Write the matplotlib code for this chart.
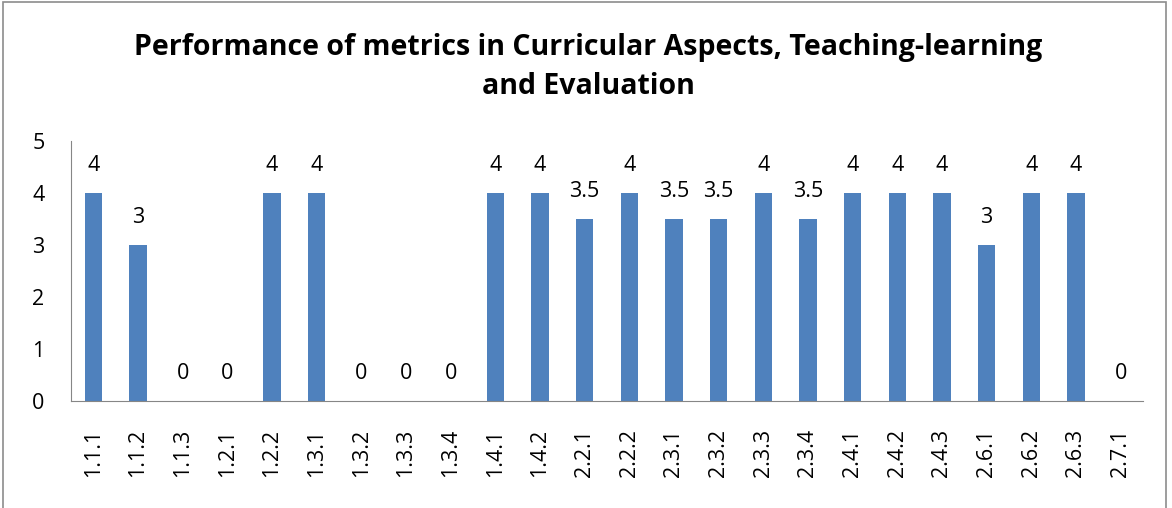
import matplotlib
matplotlib.use("Agg")
import matplotlib.pyplot as plt
from matplotlib.patches import Rectangle

categories = ["1.1.1", "1.1.2", "1.1.3", "1.2.1", "1.2.2", "1.3.1", "1.3.2", "1.3.3", "1.3.4",
              "1.4.1", "1.4.2", "2.2.1", "2.2.2", "2.3.1", "2.3.2", "2.3.3", "2.3.4", "2.4.1",
              "2.4.2", "2.4.3", "2.6.1", "2.6.2", "2.6.3", "2.7.1"]
values = [4, 3, 0, 0, 4, 4, 0, 0, 0, 4, 4, 3.5, 4, 3.5, 3.5, 4, 3.5, 4, 4, 4, 3, 4, 4, 0]
labels = ["4", "3", "0", "0", "4", "4", "0", "0", "0", "4", "4", "3.5", "4", "3.5", "3.5", "4",
          "3.5", "4", "4", "4", "3", "4", "4", "0"]
yticks = [0, 1, 2, 3, 4, 5]
title = "Performance of metrics in Curricular Aspects, Teaching-learning\nand Evaluation"

plt.rcParams['font.family'] = ['Open Sans', 'DejaVu Sans']

W, H = 1172, 508
fig = plt.figure(figsize=(W / 100, H / 100), dpi=100)
fig.patch.set_facecolor("white")

# chart border
fig.add_artist(Rectangle((3 / W, -0.01), (1166 - 3) / W, 1.0 + 0.01 - 2 / H, transform=fig.transFigure,
                         fill=False, edgecolor="#8c8c8c", linewidth=1.2))

left, right, top, bottom = 71, 1143, 141, 401
ax = fig.add_axes([left / W, 1 - bottom / H, (right - left) / W, (bottom - top) / H])
x = list(range(len(categories)))
ax.bar(x, values, width=0.39, color="#4F81BD", edgecolor="#4F81BD", linewidth=0)
ax.set_xlim(-0.5, len(categories) - 0.5)
ax.set_ylim(0, 5)
ax.set_yticks(yticks)
ax.set_yticklabels([str(v) for v in yticks], fontsize=15.5)
ax.set_xticks(x)
ax.set_xticklabels(categories, rotation=90, fontsize=15.5)
ax.tick_params(axis="both", length=0)
ax.tick_params(axis="y", pad=19)
ax.tick_params(axis="x", pad=20)
for s in ["top", "right"]:
    ax.spines[s].set_visible(False)
ax.spines["left"].set_color("#868686")
ax.spines["bottom"].set_color("#868686")

for xi, v, lab in zip(x, values, labels):
    ax.annotate(lab, (xi, v), xytext=(0, 20), textcoords="offset points",
                ha="center", va="center", fontsize=15.5)

fig.text(588 / W, 1 - 67 / H, title, ha="center", va="center", fontsize=20.5,
         fontweight="bold", linespacing=1.45)

fig.savefig("out.png", dpi=100, facecolor="white")
